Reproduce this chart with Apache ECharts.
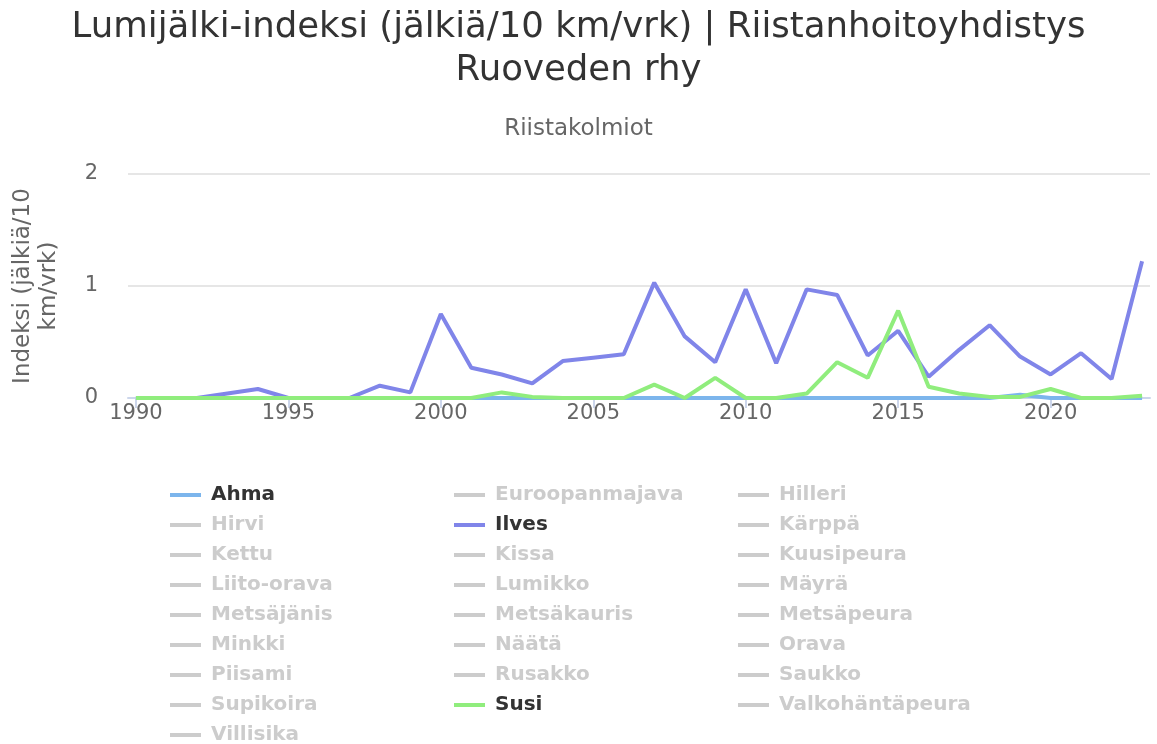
<!DOCTYPE html>
<html>
<head>
<meta charset="utf-8">
<script src="https://cdn.jsdelivr.net/npm/echarts@6/dist/echarts.min.js"></script>
<style>
  html, body { margin: 0; padding: 0; background: #fff; }
  #main { width: 1157px; height: 744px; }
</style>
</head>
<body>
<div id="main"></div>
<script>
var years = [1990,1991,1992,1993,1994,1995,1996,1997,1998,1999,
             2000,2001,2002,2003,2004,2005,2006,2007,2008,2009,
             2010,2011,2012,2013,2014,2015,2016,2017,2018,2019,
             2020,2021,2022,2023];

var ahma  = [0,0,0,0,0,0,0,0,0,0,
             0,0,0,0,0,0,0,0,0,0,
             0,0,0,0,0,0,0,0,0,0.03,
             0,0,0,0];
var ilves = [0,0,0,0.04,0.08,0,0,0,0.11,0.05,
             0.75,0.27,0.21,0.13,0.33,0.36,0.39,1.03,0.55,0.32,
             0.97,0.31,0.97,0.92,0.38,0.6,0.19,0.43,0.65,0.37,
             0.21,0.4,0.17,1.22];
var susi  = [0,0,0,0,0,0,0,0,0,0,
             0,0,0.05,0.01,0,0,0,0.12,0,0.18,
             0,0,0.04,0.32,0.18,0.78,0.1,0.04,0.01,0.01,
             0.08,0,0,0.02];

// legend order (3 columns)
var lajit = ['Ahma','Euroopanmajava','Hilleri','Hirvi','Ilves','Kärppä',
             'Kettu','Kissa','Kuusipeura','Liito-orava','Lumikko','Mäyrä',
             'Metsäjänis','Metsäkauris','Metsäpeura','Minkki','Näätä','Orava',
             'Piisami','Rusakko','Saukko','Supikoira','Susi','Valkohäntäpeura',
             'Villisika'];
var visible = { 'Ahma': ahma, 'Ilves': ilves, 'Susi': susi };
var colors = { 'Ahma': '#7cb5ec', 'Ilves': '#8085e9', 'Susi': '#90ed7d' };
var xTicks = [1990,1995,2000,2005,2010,2015,2020];

var font = '"DejaVu Sans", Verdana, sans-serif';

function pairs(arr) {
  return years.map(function (y, i) { return [y, arr[i]]; });
}

var selected = {};
var series = lajit.map(function (name) {
  selected[name] = !!visible[name];
  return {
    name: name,
    type: 'line',
    showSymbol: false,
    color: colors[name] || '#cccccc',
    lineStyle: { width: 4 },
    emphasis: { disabled: true },
    data: visible[name] ? pairs(visible[name]) : []
  };
});

var myChart = echarts.init(document.getElementById('main'));
var option = {
  animation: false,
  title: [{
    text: 'Lumijälki-indeksi (jälkiä/10 km/vrk) | Riistanhoitoyhdistys\nRuoveden rhy',
    left: 'center',
    top: 1,
    textStyle: { fontFamily: font, fontSize: 35.5, fontWeight: 'normal', color: '#333', lineHeight: 43 }
  }, {
    text: 'Riistakolmiot',
    left: 'center',
    top: 113,
    textStyle: { fontFamily: font, fontSize: 23, fontWeight: 'normal', color: '#666' }
  }],
  tooltip: { show: false },
  grid: { left: 128, right: 7, top: 174, bottom: 346, containLabel: false },
  xAxis: {
    type: 'value',
    min: 1989.74,
    max: 2023.26,
    axisLine: { lineStyle: { color: '#ccd6eb', width: 2 } },
    axisTick: { show: true, length: 10, customValues: xTicks, lineStyle: { color: '#ccd6eb', width: 2 } },
    axisLabel: {
      customValues: xTicks, color: '#666', fontFamily: font, fontSize: 21, margin: 5,
      formatter: function (v) { return String(v); }
    },
    splitLine: { show: false }
  },
  yAxis: {
    type: 'value',
    min: 0,
    max: 2,
    interval: 1,
    name: 'Indeksi (jälkiä/10\nkm/vrk)',
    nameLocation: 'middle',
    nameGap: 66,
    nameTextStyle: { fontFamily: font, fontSize: 23, color: '#666', lineHeight: 26 },
    axisLine: { show: false },
    axisTick: { show: false },
    axisLabel: { color: '#666', fontFamily: font, fontSize: 21, margin: 30 },
    splitLine: { lineStyle: { color: '#e6e6e6', width: 2 } }
  },
  legend: {
    data: lajit,
    selected: selected,
    left: 170,
    top: 485,
    padding: 0,
    width: 870,
    orient: 'horizontal',
    icon: 'rect',
    itemWidth: 31,
    itemHeight: 4,
    itemGap: 10,
    inactiveColor: '#cccccc',
    textStyle: {
      fontFamily: font, fontSize: 20, fontWeight: 'bold', color: '#333',
      width: 233, padding: [0, 0, 0, 5], lineHeight: 20
    }
  },
  series: series
};

myChart.setOption(option);
</script>
</body>
</html>
